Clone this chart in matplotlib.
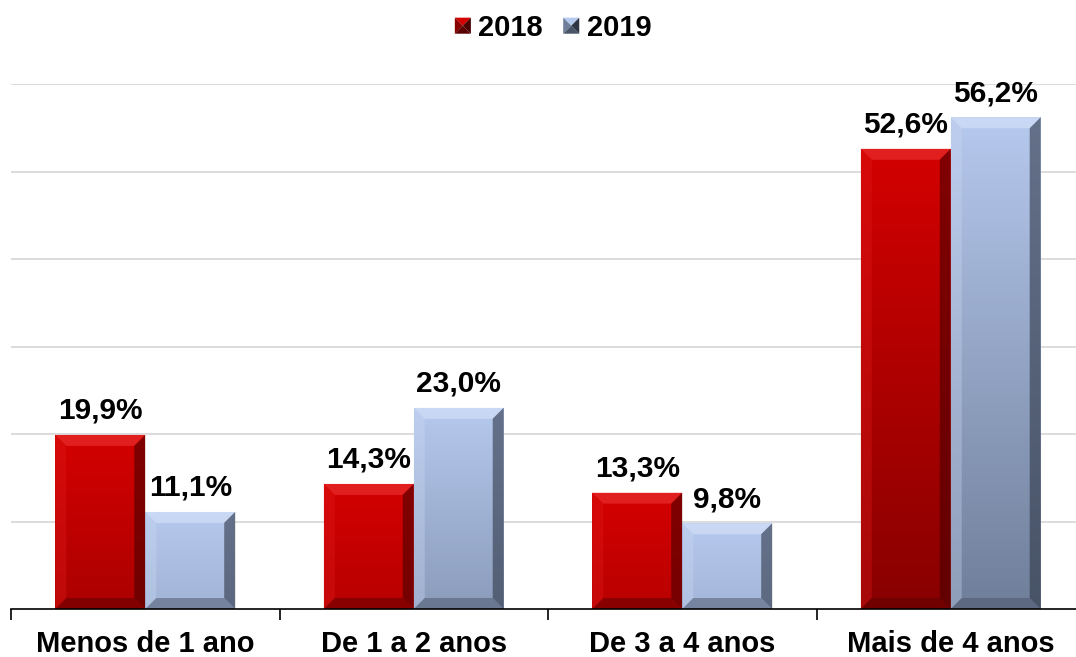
import numpy as np
import matplotlib
matplotlib.use("Agg")
import matplotlib.pyplot as plt
from matplotlib.patches import Polygon, Rectangle
from matplotlib.colors import LinearSegmentedColormap
from matplotlib.legend_handler import HandlerPatch
import matplotlib.transforms as mtransforms

plt.rcParams['font.family'] = ['Liberation Sans', 'DejaVu Sans']

categories = ["Menos de 1 ano", "De 1 a 2 anos", "De 3 a 4 anos", "Mais de 4 anos"]
series_names = ["2018", "2019"]
values_2018 = [19.9, 14.3, 13.3, 52.6]
values_2019 = [11.1, 23.0, 9.8, 56.2]
labels_2018 = ["19,9%", "14,3%", "13,3%", "52,6%"]
labels_2019 = ["11,1%", "23,0%", "9,8%", "56,2%"]

W, H = 1076, 657
fig = plt.figure(figsize=(W / 100, H / 100), dpi=100)
ax_left, ax_right, ax_top, ax_bot = 11, 1085, 84, 609
ax = fig.add_axes([ax_left / W, (H - ax_bot) / H, (ax_right - ax_left) / W, (ax_bot - ax_top) / H])
ax.set_xlim(-0.5, 3.5)
ax.set_ylim(0, 60)

px_x = (ax_right - ax_left) / 4.0   # pixels per x unit
px_y = (ax_bot - ax_top) / 60.0     # pixels per y unit

ax.yaxis.set_visible(False)
for v in np.arange(10, 61, 10):
    ax.axhline(v, color="#d9d9d9", lw=1.3, zorder=0)
for s in ["top", "right", "left"]:
    ax.spines[s].set_visible(False)
ax.spines["bottom"].set_color("black")
ax.spines["bottom"].set_linewidth(1.2)
ax.spines["bottom"].set_zorder(6)

x = np.arange(len(categories))
ax.set_xticks(x)
ax.set_xticklabels([])
ax.tick_params(axis="x", which="major", length=0)
ax.set_xticks(np.arange(-0.5, 4.0, 1.0), minor=True)
ax.tick_params(axis="x", which="minor", length=8, width=1.2, color="black")

# category labels, baseline about 44 px below the axis
lab_tr = ax.get_xaxis_transform() + mtransforms.ScaledTranslation(0, -43 / 100, fig.dpi_scale_trans)
for i, c in enumerate(categories):
    ax.text(x[i], 0, c, transform=lab_tr, ha="center", va="baseline",
            fontsize=21, fontweight="bold", clip_on=False)

bw = 0.335
styles = {
    "2018": dict(top="#d40000", bottom="#880000", light="#f03a3a", lighter="#e01a1a",
                 dark="#4a0000", darker="#5a0000"),
    "2019": dict(top="#b6c9ee", bottom="#6f7f9a", light="#dbe6fa", lighter="#cbd8f2",
                 dark="#2e3646", darker="#4a5468"),
}

bev_px = 11
bx = bev_px / px_x
by = bev_px / px_y


def bevel_bar(x0, h, st):
    rect = Rectangle((x0, 0), bw, h, facecolor=st["top"], edgecolor="none", zorder=2)
    ax.add_patch(rect)
    cmap = LinearSegmentedColormap.from_list("g", [st["bottom"], st["top"]])
    frac = h / 60.0
    grad = np.linspace(1 - min(1, 1.6 * frac), 1, 256).reshape(-1, 1)
    im = ax.imshow(grad, extent=(x0, x0 + bw, 0, h), origin="lower", aspect="auto",
                   cmap=cmap, vmin=0, vmax=1, zorder=2)
    im.set_clip_path(rect)
    x1 = x0 + bw
    yb = min(by, h / 2)
    xb = min(bx, bw / 2)
    polys = [
        ([(x0, h), (x1, h), (x1 - xb, h - yb), (x0 + xb, h - yb)], st["light"], 0.55),
        ([(x0, 0), (x0, h), (x0 + xb, h - yb), (x0 + xb, yb)], st["lighter"], 0.35),
        ([(x1, 0), (x1, h), (x1 - xb, h - yb), (x1 - xb, yb)], st["dark"], 0.6),
        ([(x0, 0), (x1, 0), (x1 - xb, yb), (x0 + xb, yb)], st["darker"], 0.5),
    ]
    for pts, c, a in polys:
        p = Polygon(pts, closed=True, facecolor=c, edgecolor="none", zorder=3, alpha=a)
        ax.add_patch(p)


for i in range(len(categories)):
    bevel_bar(x[i] - bw, values_2018[i], styles["2018"])
    bevel_bar(x[i], values_2019[i], styles["2019"])
    ax.text(x[i] - bw / 2, values_2018[i] + 16 / px_y, labels_2018[i], ha="center", va="baseline",
            fontsize=21.5, fontweight="bold", zorder=5)
    ax.text(x[i] + bw / 2, values_2019[i] + 16 / px_y, labels_2019[i], ha="center", va="baseline",
            fontsize=21.5, fontweight="bold", zorder=5)


class BevelHandler(HandlerPatch):
    def create_artists(self, legend, orig_handle, xdescent, ydescent, width, height, fontsize, trans):
        st = orig_handle._st
        s = min(width, height)
        x0, y0 = -xdescent, -ydescent + (height - s) / 2
        b = s * 0.35
        cx, cy = x0 + s / 2, y0 + s / 2
        pts = {
            "top": [(x0, y0 + s), (x0 + s, y0 + s), (cx, cy)],
            "left": [(x0, y0), (x0, y0 + s), (cx, cy)],
            "right": [(x0 + s, y0), (x0 + s, y0 + s), (cx, cy)],
            "bottom": [(x0, y0), (x0 + s, y0), (cx, cy)],
        }
        cols = {"top": st["top"], "left": st["bottom"], "right": st["dark"], "bottom": st["darker"]}
        arts = []
        for k in ["top", "left", "right", "bottom"]:
            p = Polygon(pts[k], closed=True, facecolor=cols[k], edgecolor="none", transform=trans)
            arts.append(p)
        return arts


handles = []
for n in series_names:
    r = Rectangle((0, 0), 1, 1)
    r._st = styles[n]
    handles.append(r)
fig.legend(handles, series_names, loc="center", bbox_to_anchor=(553 / W, 1 - 28 / H),
           ncol=2, frameon=False, prop=dict(size=21, weight="bold"),
           handlelength=0.55, handleheight=0.55, handletextpad=0.25, columnspacing=0.7,
           handler_map={Rectangle: BevelHandler()})

fig.savefig("out.png", dpi=100)
